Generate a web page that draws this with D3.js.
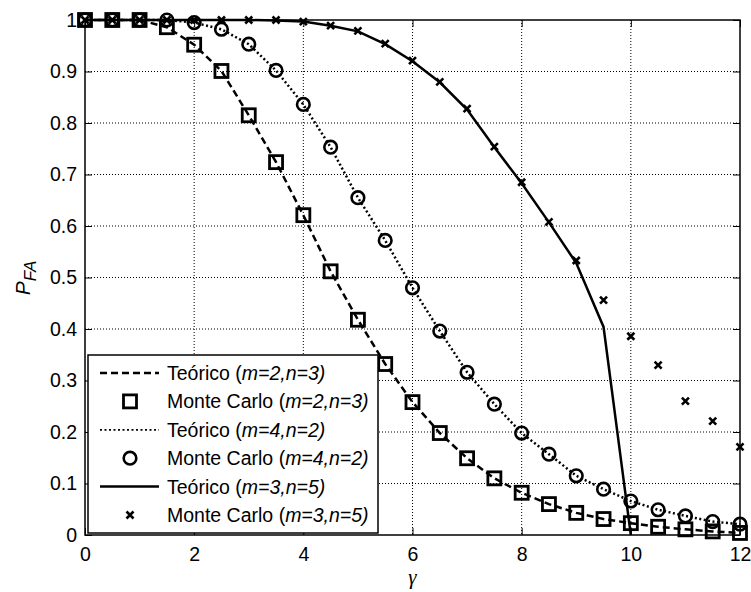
<!DOCTYPE html>
<html>
<head>
<meta charset="utf-8">
<script src="https://cdn.jsdelivr.net/npm/d3@7"></script>
<style>
  body { margin: 0; background: #fff; }
  svg { display: block; font-family: "Liberation Sans", Arial, sans-serif; }
</style>
</head>
<body>
<div id="chart"></div>
<script>
// gamma axis values (threshold)
var gammaVals = [0, 0.5, 1, 1.5, 2, 2.5, 3, 3.5, 4, 4.5, 5, 5.5, 6, 6.5, 7, 7.5, 8, 8.5, 9, 9.5, 10, 10.5, 11, 11.5, 12];

// m=2, n=3
var th23 = [1, 1, 1, 0.986, 0.952, 0.901, 0.815, 0.724, 0.621, 0.512, 0.418, 0.332, 0.258, 0.198, 0.149, 0.110, 0.082, 0.060, 0.043, 0.031, 0.023, 0.016, 0.011, 0.007, 0.004];
var mc23 = [1, 1, 1, 0.986, 0.952, 0.901, 0.815, 0.724, 0.621, 0.512, 0.418, 0.332, 0.258, 0.198, 0.149, 0.110, 0.082, 0.060, 0.043, 0.031, 0.023, 0.016, 0.011, 0.007, 0.004];

// m=4, n=2
var th42 = [1, 1, 1, 1, 0.995, 0.982, 0.953, 0.902, 0.836, 0.753, 0.655, 0.572, 0.480, 0.396, 0.316, 0.254, 0.198, 0.157, 0.115, 0.089, 0.066, 0.049, 0.037, 0.026, 0.021];
var mc42 = [1, 1, 1, 1, 0.995, 0.982, 0.953, 0.902, 0.836, 0.753, 0.655, 0.572, 0.480, 0.396, 0.316, 0.254, 0.198, 0.157, 0.115, 0.089, 0.066, 0.049, 0.037, 0.026, 0.021];

// m=3, n=5 (theory only goes to gamma=10)
var gamma35 = [0, 0.5, 1, 1.5, 2, 2.5, 3, 3.5, 4, 4.5, 5, 5.5, 6, 6.5, 7, 7.5, 8, 8.5, 9, 9.5, 10];
var th35 = [1, 1, 1, 1, 1, 1, 1, 0.999, 0.997, 0.989, 0.978, 0.953, 0.920, 0.879, 0.826, 0.753, 0.683, 0.607, 0.528, 0.404, 0];
var mc35 = [1, 1, 1, 1, 1, 1, 1, 1, 0.997, 0.989, 0.979, 0.954, 0.921, 0.880, 0.828, 0.754, 0.685, 0.608, 0.533, 0.456, 0.386, 0.330, 0.260, 0.221, 0.171];

var xTicks = [0, 2, 4, 6, 8, 10, 12];
var yTicks = [0, 0.1, 0.2, 0.3, 0.4, 0.5, 0.6, 0.7, 0.8, 0.9, 1];

var legendLabels = [
  ["Teórico ", "m=2,n=3"],
  ["Monte Carlo ", "m=2,n=3"],
  ["Teórico ", "m=4,n=2"],
  ["Monte Carlo ", "m=4,n=2"],
  ["Teórico ", "m=3,n=5"],
  ["Monte Carlo ", "m=3,n=5"]
];

var W = 751, H = 592;
var pL = 85, pR = 740, pT = 20, pB = 535;
var fs = 19.5;

var x = d3.scaleLinear().domain([0, 12]).range([pL, pR]);
var y = d3.scaleLinear().domain([0, 1]).range([pB, pT]);

var svg = d3.select('#chart').append('svg')
  .attr('width', W)
  .attr('height', H);

svg.append('rect').attr('width', W).attr('height', H).attr('fill', '#fff');

// grid
var grid = svg.append('g').attr('class', 'grid');
grid.selectAll('line.gx')
  .data(xTicks.slice(1, -1))
  .enter().append('line')
  .attr('x1', function (d) { return x(d); })
  .attr('x2', function (d) { return x(d); })
  .attr('y1', pT).attr('y2', pB)
  .attr('stroke', '#000').attr('stroke-width', 1)
  .attr('stroke-dasharray', '1,2');
grid.selectAll('line.gy')
  .data(yTicks.slice(1, -1))
  .enter().append('line')
  .attr('y1', function (d) { return y(d); })
  .attr('y2', function (d) { return y(d); })
  .attr('x1', pL).attr('x2', pR)
  .attr('stroke', '#000').attr('stroke-width', 1)
  .attr('stroke-dasharray', '1,2');

// axes
var xAxis = d3.axisBottom(x).tickValues(xTicks).tickSize(-7).tickPadding(12).tickFormat(d3.format('d'));
var yAxis = d3.axisLeft(y).tickValues(yTicks).tickSize(-7).tickPadding(8)
  .tickFormat(function (d) { return d === 0 || d === 1 ? String(d) : d3.format('.1f')(d); });
var xAxisTop = d3.axisTop(x).tickValues(xTicks).tickSize(-7).tickFormat('');
var yAxisRight = d3.axisRight(y).tickValues(yTicks).tickSize(-7).tickFormat('');

function styleAxis(g) {
  g.select('.domain').remove();
  g.selectAll('line').attr('stroke', '#000').attr('stroke-width', 1);
  g.selectAll('text').attr('fill', '#000').attr('font-size', fs)
    .attr('font-family', '"Liberation Sans", Arial, sans-serif');
}

svg.append('g').attr('transform', 'translate(0,' + pB + ')').call(xAxis).call(styleAxis);
svg.append('g').attr('transform', 'translate(' + pL + ',0)').call(yAxis).call(styleAxis);
svg.append('g').attr('transform', 'translate(0,' + pT + ')').call(xAxisTop).call(styleAxis);
svg.append('g').attr('transform', 'translate(' + pR + ',0)').call(yAxisRight).call(styleAxis);

svg.append('rect')
  .attr('x', pL).attr('y', pT)
  .attr('width', pR - pL).attr('height', pB - pT)
  .attr('fill', 'none').attr('stroke', '#000').attr('stroke-width', 1.5);

// series
var line = d3.line()
  .x(function (d) { return x(d[0]); })
  .y(function (d) { return y(d[1]); });

function pairs(xs, ys) {
  return ys.map(function (v, i) { return [xs[i], v]; });
}

var plot = svg.append('g').attr('class', 'series');

plot.append('path').datum(pairs(gammaVals, th23))
  .attr('d', line).attr('fill', 'none').attr('stroke', '#000')
  .attr('stroke-width', 2.5).attr('stroke-dasharray', '7,4');
plot.append('path').datum(pairs(gammaVals, th42))
  .attr('d', line).attr('fill', 'none').attr('stroke', '#000')
  .attr('stroke-width', 2.5).attr('stroke-dasharray', '2,2.5');
plot.append('path').datum(pairs(gamma35, th35))
  .attr('d', line).attr('fill', 'none').attr('stroke', '#000')
  .attr('stroke-width', 2.5);

function square(g, cx, cy) {
  g.append('rect').attr('x', cx - 6.5).attr('y', cy - 6.5)
    .attr('width', 13).attr('height', 13)
    .attr('fill', 'none').attr('stroke', '#000').attr('stroke-width', 2.8);
}
function circle(g, cx, cy) {
  g.append('circle').attr('cx', cx).attr('cy', cy).attr('r', 6.3)
    .attr('fill', 'none').attr('stroke', '#000').attr('stroke-width', 2.6);
}
function cross(g, cx, cy) {
  var s = 3.5;
  g.append('path')
    .attr('d', 'M' + (cx - s) + ',' + (cy - s) + 'L' + (cx + s) + ',' + (cy + s) +
               'M' + (cx - s) + ',' + (cy + s) + 'L' + (cx + s) + ',' + (cy - s))
    .attr('stroke', '#000').attr('stroke-width', 2.6).attr('fill', 'none');
}

pairs(gammaVals, mc23).forEach(function (d) { square(plot, x(d[0]), y(d[1])); });
pairs(gammaVals, mc42).forEach(function (d) { circle(plot, x(d[0]), y(d[1])); });
pairs(gammaVals, mc35).forEach(function (d) { cross(plot, x(d[0]), y(d[1])); });

// legend
var legend = svg.append('g').attr('class', 'legend');
var lx = 88, ly = 355, lw = 290, lh = 178;
legend.append('rect')
  .attr('x', lx).attr('y', ly).attr('width', lw).attr('height', lh)
  .attr('fill', '#fff').attr('stroke', '#000').attr('stroke-width', 1.5);

var rowY = d3.scaleLinear().domain([0, 5]).range([373, 515]);
var dashes = ['7,4', null, '2,2.5', null, null, null];

legendLabels.forEach(function (lab, i) {
  var ry = rowY(i);
  if (i % 2 === 0) {
    var ln = legend.append('line')
      .attr('x1', 100).attr('x2', 159).attr('y1', ry).attr('y2', ry)
      .attr('stroke', '#000').attr('stroke-width', i === 2 ? 1.8 : 2.5);
    if (dashes[i]) ln.attr('stroke-dasharray', dashes[i]);
  } else if (i === 1) {
    square(legend, 130, ry);
  } else if (i === 3) {
    circle(legend, 130, ry);
  } else {
    cross(legend, 130, ry);
  }
  var t = legend.append('text')
    .attr('x', 167).attr('y', ry + 7)
    .attr('font-size', fs).attr('fill', '#000');
  t.append('tspan').text(lab[0] + '(');
  t.append('tspan').attr('font-style', 'italic').text(lab[1] + ')');
});

// axis titles
svg.append('text')
  .attr('x', (pL + pR) / 2).attr('y', 584)
  .attr('text-anchor', 'middle')
  .attr('font-family', '"Liberation Serif", "DejaVu Serif", serif')
  .attr('font-style', 'italic').attr('font-size', 21)
  .text('γ');

var yl = svg.append('text')
  .attr('transform', 'translate(30,' + 278 + ') rotate(-90)')
  .attr('text-anchor', 'middle')
  .attr('font-size', 21).attr('font-style', 'italic');
yl.append('tspan').text('P');
yl.append('tspan').attr('dy', 6).attr('font-size', 17).text('FA');
</script>
</body>
</html>
